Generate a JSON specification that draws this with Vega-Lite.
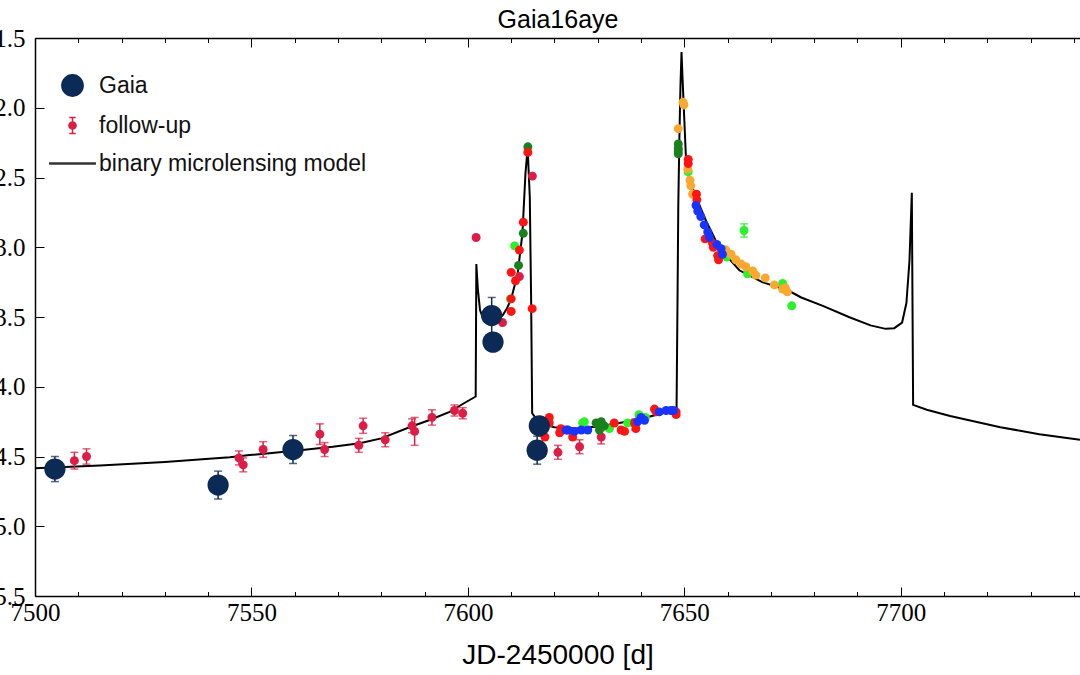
{
  "$schema": "https://vega.github.io/schema/vega-lite/v6.json",
  "width": 1045,
  "height": 558,
  "autosize": {"type": "none"},
  "padding": {"left": 35, "top": 38, "right": 0, "bottom": 79},
  "background": "white",
  "datasets": {
    "model": [
      {"t": 7500, "mag": 14.584}, {"t": 7515, "mag": 14.565}, {"t": 7530, "mag": 14.54}, {"t": 7545, "mag": 14.505},
      {"t": 7549.6, "mag": 14.49}, {"t": 7561.2, "mag": 14.455}, {"t": 7568.8, "mag": 14.43}, {"t": 7575, "mag": 14.405},
      {"t": 7580, "mag": 14.37}, {"t": 7586.5, "mag": 14.29}, {"t": 7591, "mag": 14.24}, {"t": 7595.8, "mag": 14.18},
      {"t": 7599, "mag": 14.12}, {"t": 7601.8, "mag": 14.07}, {"t": 7601.95, "mag": 13.12}, {"t": 7602.3, "mag": 13.3},
      {"t": 7602.8, "mag": 13.45}, {"t": 7603.5, "mag": 13.51}, {"t": 7605, "mag": 13.53}, {"t": 7606.5, "mag": 13.52},
      {"t": 7608, "mag": 13.49}, {"t": 7609, "mag": 13.44}, {"t": 7610, "mag": 13.37}, {"t": 7611.5, "mag": 13.19},
      {"t": 7612.6, "mag": 12.9}, {"t": 7613.3, "mag": 12.47}, {"t": 7613.8, "mag": 12.29}, {"t": 7614.3, "mag": 12.64},
      {"t": 7614.6, "mag": 13.36}, {"t": 7614.85, "mag": 14.19}, {"t": 7616.5, "mag": 14.26}, {"t": 7620, "mag": 14.29},
      {"t": 7625, "mag": 14.3}, {"t": 7630, "mag": 14.285}, {"t": 7635, "mag": 14.26}, {"t": 7640, "mag": 14.23},
      {"t": 7645, "mag": 14.19}, {"t": 7648.2, "mag": 14.17}, {"t": 7648.45, "mag": 13.29}, {"t": 7648.6, "mag": 12.71},
      {"t": 7648.85, "mag": 12.23}, {"t": 7649.1, "mag": 11.85}, {"t": 7649.35, "mag": 11.6}, {"t": 7649.6, "mag": 11.8},
      {"t": 7650.0, "mag": 12.09}, {"t": 7650.4, "mag": 12.38}, {"t": 7651.0, "mag": 12.49}, {"t": 7651.5, "mag": 12.54},
      {"t": 7652.7, "mag": 12.64}, {"t": 7655, "mag": 12.81}, {"t": 7658, "mag": 13.0}, {"t": 7662.7, "mag": 13.165},
      {"t": 7668, "mag": 13.25}, {"t": 7674, "mag": 13.31}, {"t": 7677, "mag": 13.36}, {"t": 7682, "mag": 13.42},
      {"t": 7688, "mag": 13.5}, {"t": 7693, "mag": 13.56}, {"t": 7696.5, "mag": 13.585}, {"t": 7698.5, "mag": 13.58},
      {"t": 7700.3, "mag": 13.54}, {"t": 7701.3, "mag": 13.4}, {"t": 7702.0, "mag": 13.1}, {"t": 7702.55, "mag": 12.61},
      {"t": 7702.85, "mag": 14.13}, {"t": 7706, "mag": 14.165}, {"t": 7711.4, "mag": 14.21}, {"t": 7723, "mag": 14.29},
      {"t": 7732, "mag": 14.34}, {"t": 7741.4, "mag": 14.38}
    ],
    "gaia": [
      {"t": 7504.6, "mag": 14.59, "err": 0.09, "series": "Gaia"},
      {"t": 7542.3, "mag": 14.705, "err": 0.1, "series": "Gaia"},
      {"t": 7559.6, "mag": 14.45, "err": 0.1, "series": "Gaia"},
      {"t": 7605.5, "mag": 13.49, "err": 0.13, "series": "Gaia"},
      {"t": 7605.8, "mag": 13.68, "err": 0.06, "series": "Gaia"},
      {"t": 7616.5, "mag": 14.28, "err": 0.06, "series": "Gaia"},
      {"t": 7616.0, "mag": 14.455, "err": 0.1, "series": "Gaia"}
    ],
    "fu": [
      {"t": 7509.1, "mag": 14.53, "err": 0.06, "tel": "crimson"},
      {"t": 7511.9, "mag": 14.5, "err": 0.055, "tel": "crimson"},
      {"t": 7547.1, "mag": 14.51, "err": 0.05, "tel": "crimson"},
      {"t": 7548.1, "mag": 14.56, "err": 0.05, "tel": "crimson"},
      {"t": 7552.7, "mag": 14.45, "err": 0.056, "tel": "crimson"},
      {"t": 7565.8, "mag": 14.34, "err": 0.074, "tel": "crimson"},
      {"t": 7566.9, "mag": 14.45, "err": 0.05, "tel": "crimson"},
      {"t": 7574.8, "mag": 14.42, "err": 0.05, "tel": "crimson"},
      {"t": 7575.8, "mag": 14.28, "err": 0.054, "tel": "crimson"},
      {"t": 7580.9, "mag": 14.38, "err": 0.05, "tel": "crimson"},
      {"t": 7587.1, "mag": 14.28, "err": 0.05, "tel": "crimson"},
      {"t": 7587.7, "mag": 14.32, "err": 0.1, "tel": "crimson"},
      {"t": 7591.7, "mag": 14.22, "err": 0.055, "tel": "crimson"},
      {"t": 7596.9, "mag": 14.17, "err": 0.04, "tel": "crimson"},
      {"t": 7598.8, "mag": 14.19, "err": 0.04, "tel": "crimson"},
      {"t": 7601.9, "mag": 12.93, "err": 0, "tel": "crimson"},
      {"t": 7608.0, "mag": 13.54, "err": 0, "tel": "crimson"},
      {"t": 7611.9, "mag": 13.21, "err": 0, "tel": "crimson"},
      {"t": 7614.9, "mag": 12.49, "err": 0, "tel": "crimson"},
      {"t": 7620.8, "mag": 14.47, "err": 0.05, "tel": "crimson"},
      {"t": 7625.8, "mag": 14.43, "err": 0.05, "tel": "crimson"},
      {"t": 7630.8, "mag": 14.36, "err": 0.05, "tel": "crimson"},
      {"t": 7638.7, "mag": 14.27, "err": 0.04, "tel": "crimson"},
      {"t": 7609.8, "mag": 13.37, "err": 0, "tel": "lime"},
      {"t": 7610.8, "mag": 12.99, "err": 0, "tel": "lime"},
      {"t": 7626.5, "mag": 14.26, "err": 0, "tel": "lime"},
      {"t": 7626.9, "mag": 14.25, "err": 0, "tel": "lime"},
      {"t": 7632.7, "mag": 14.3, "err": 0, "tel": "lime"},
      {"t": 7636.9, "mag": 14.26, "err": 0, "tel": "lime"},
      {"t": 7639.5, "mag": 14.2, "err": 0, "tel": "lime"},
      {"t": 7641.0, "mag": 14.22, "err": 0, "tel": "lime"},
      {"t": 7650.9, "mag": 12.46, "err": 0, "tel": "lime"},
      {"t": 7659.8, "mag": 13.07, "err": 0, "tel": "lime"},
      {"t": 7664.6, "mag": 13.19, "err": 0, "tel": "lime"},
      {"t": 7672.7, "mag": 13.26, "err": 0, "tel": "lime"},
      {"t": 7674.8, "mag": 13.42, "err": 0, "tel": "lime"},
      {"t": 7663.8, "mag": 12.88, "err": 0.048, "tel": "lime"},
      {"t": 7648.6, "mag": 12.15, "err": 0, "tel": "orange"},
      {"t": 7649.7, "mag": 11.96, "err": 0, "tel": "orange"},
      {"t": 7649.9, "mag": 11.98, "err": 0, "tel": "orange"},
      {"t": 7650.8, "mag": 12.44, "err": 0, "tel": "orange"},
      {"t": 7651.3, "mag": 12.52, "err": 0, "tel": "orange"},
      {"t": 7651.5, "mag": 12.56, "err": 0, "tel": "orange"},
      {"t": 7651.9, "mag": 12.62, "err": 0, "tel": "orange"},
      {"t": 7659.4, "mag": 13.02, "err": 0, "tel": "orange"},
      {"t": 7659.6, "mag": 13.02, "err": 0, "tel": "orange"},
      {"t": 7660.8, "mag": 13.05, "err": 0, "tel": "orange"},
      {"t": 7661.9, "mag": 13.09, "err": 0, "tel": "orange"},
      {"t": 7663.1, "mag": 13.12, "err": 0, "tel": "orange"},
      {"t": 7664.2, "mag": 13.14, "err": 0, "tel": "orange"},
      {"t": 7665.8, "mag": 13.17, "err": 0, "tel": "orange"},
      {"t": 7666.5, "mag": 13.2, "err": 0, "tel": "orange"},
      {"t": 7668.7, "mag": 13.22, "err": 0, "tel": "orange"},
      {"t": 7670.8, "mag": 13.27, "err": 0, "tel": "orange"},
      {"t": 7672.7, "mag": 13.3, "err": 0, "tel": "orange"},
      {"t": 7673.3, "mag": 13.29, "err": 0, "tel": "orange"},
      {"t": 7673.8, "mag": 13.32, "err": 0, "tel": "orange"},
      {"t": 7611.7, "mag": 13.13, "err": 0, "tel": "darkgreen"},
      {"t": 7612.8, "mag": 12.9, "err": 0, "tel": "darkgreen"},
      {"t": 7613.85, "mag": 12.28, "err": 0, "tel": "darkgreen"},
      {"t": 7629.6, "mag": 14.26, "err": 0, "tel": "darkgreen"},
      {"t": 7630.4, "mag": 14.31, "err": 0, "tel": "darkgreen"},
      {"t": 7630.8, "mag": 14.25, "err": 0, "tel": "darkgreen"},
      {"t": 7631.5, "mag": 14.28, "err": 0, "tel": "darkgreen"},
      {"t": 7648.6, "mag": 12.26, "err": 0, "tel": "darkgreen"},
      {"t": 7648.6, "mag": 12.29, "err": 0, "tel": "darkgreen"},
      {"t": 7648.6, "mag": 12.31, "err": 0, "tel": "darkgreen"},
      {"t": 7648.6, "mag": 12.33, "err": 0, "tel": "darkgreen"},
      {"t": 7610.0, "mag": 13.18, "err": 0, "tel": "red"},
      {"t": 7610.0, "mag": 13.37, "err": 0, "tel": "red"},
      {"t": 7610.0, "mag": 13.46, "err": 0, "tel": "red"},
      {"t": 7611.0, "mag": 13.24, "err": 0, "tel": "red"},
      {"t": 7611.9, "mag": 13.02, "err": 0, "tel": "red"},
      {"t": 7612.8, "mag": 12.82, "err": 0, "tel": "red"},
      {"t": 7613.85, "mag": 12.32, "err": 0, "tel": "red"},
      {"t": 7614.85, "mag": 13.44, "err": 0, "tel": "red"},
      {"t": 7617.8, "mag": 14.36, "err": 0, "tel": "red"},
      {"t": 7618.8, "mag": 14.22, "err": 0, "tel": "red"},
      {"t": 7618.8, "mag": 14.26, "err": 0, "tel": "red"},
      {"t": 7621.2, "mag": 14.33, "err": 0, "tel": "red"},
      {"t": 7621.5, "mag": 14.3, "err": 0, "tel": "red"},
      {"t": 7624.2, "mag": 14.36, "err": 0, "tel": "red"},
      {"t": 7633.8, "mag": 14.26, "err": 0, "tel": "red"},
      {"t": 7635.4, "mag": 14.31, "err": 0, "tel": "red"},
      {"t": 7636.2, "mag": 14.32, "err": 0, "tel": "red"},
      {"t": 7638.5, "mag": 14.26, "err": 0, "tel": "red"},
      {"t": 7638.8, "mag": 14.3, "err": 0, "tel": "red"},
      {"t": 7643.1, "mag": 14.16, "err": 0, "tel": "red"},
      {"t": 7643.5, "mag": 14.18, "err": 0, "tel": "red"},
      {"t": 7648.1, "mag": 14.18, "err": 0, "tel": "red"},
      {"t": 7648.1, "mag": 14.2, "err": 0, "tel": "red"},
      {"t": 7650.9, "mag": 12.37, "err": 0, "tel": "red"},
      {"t": 7650.9, "mag": 12.4, "err": 0, "tel": "red"},
      {"t": 7652.8, "mag": 12.62, "err": 0, "tel": "red"},
      {"t": 7652.9, "mag": 12.66, "err": 0, "tel": "red"},
      {"t": 7654.8, "mag": 12.94, "err": 0, "tel": "red"},
      {"t": 7656.5, "mag": 12.97, "err": 0, "tel": "red"},
      {"t": 7656.7, "mag": 13.0, "err": 0, "tel": "red"},
      {"t": 7657.7, "mag": 13.06, "err": 0, "tel": "red"},
      {"t": 7657.9, "mag": 13.09, "err": 0, "tel": "red"},
      {"t": 7622.7, "mag": 14.31, "err": 0, "tel": "blue"},
      {"t": 7623.1, "mag": 14.31, "err": 0, "tel": "blue"},
      {"t": 7624.6, "mag": 14.32, "err": 0, "tel": "blue"},
      {"t": 7626.2, "mag": 14.31, "err": 0, "tel": "blue"},
      {"t": 7627.7, "mag": 14.31, "err": 0, "tel": "blue"},
      {"t": 7639.2, "mag": 14.25, "err": 0, "tel": "blue"},
      {"t": 7640.0, "mag": 14.22, "err": 0, "tel": "blue"},
      {"t": 7640.8, "mag": 14.24, "err": 0, "tel": "blue"},
      {"t": 7644.2, "mag": 14.18, "err": 0, "tel": "blue"},
      {"t": 7645.8, "mag": 14.17, "err": 0, "tel": "blue"},
      {"t": 7646.9, "mag": 14.17, "err": 0, "tel": "blue"},
      {"t": 7647.5, "mag": 14.17, "err": 0, "tel": "blue"},
      {"t": 7652.7, "mag": 12.7, "err": 0, "tel": "blue"},
      {"t": 7653.1, "mag": 12.74, "err": 0, "tel": "blue"},
      {"t": 7653.8, "mag": 12.78, "err": 0, "tel": "blue"},
      {"t": 7654.6, "mag": 12.84, "err": 0, "tel": "blue"},
      {"t": 7655.4, "mag": 12.89, "err": 0, "tel": "blue"},
      {"t": 7655.8, "mag": 12.93, "err": 0, "tel": "blue"},
      {"t": 7657.5, "mag": 12.98, "err": 0, "tel": "blue"},
      {"t": 7658.5, "mag": 13.01, "err": 0, "tel": "blue"},
      {"t": 7658.8, "mag": 13.05, "err": 0, "tel": "blue"}
    ]
  },
  "layer": [
    {
      "data": {"name": "model"},
      "mark": {"type": "line", "color": "#000", "strokeWidth": 2, "clip": true},
      "encoding": {
        "x": {"field": "t", "type": "quantitative", "scale": {"domain": [7500, 7741.4], "nice": false, "zero": false},
          "axis": {"orient": "bottom", "values": [7500,7510,7520,7530,7540,7550,7560,7570,7580,7590,7600,7610,7620,7630,7640,7650,7660,7670,7680,7690,7700,7710,7720,7730,7740],
            "labelExpr": "datum.value % 50 === 0 ? datum.label : ''", "format": "d",
            "tickSize": {"condition": {"test": "datum.value % 50 === 0", "value": -9}, "value": -4.5},
            "tickColor": "#000", "tickWidth": 1, "labelFont": "Liberation Serif", "labelFontSize": 25, "labelColor": "#000",
            "labelPadding": 13, "labelFlush": false, "labelOverlap": false, "labelBound": false,
            "domain": true, "domainColor": "#000", "domainWidth": 1.5, "grid": false,
            "title": "JD-2450000 [d]", "titleFont": "Liberation Sans", "titleFontSize": 28, "titleFontWeight": "normal", "titleColor": "#000",
            "titleY": 67, "titleBaseline": "alphabetic"}},
        "y": {"field": "mag", "type": "quantitative", "scale": {"domain": [11.5, 15.5], "reverse": true, "nice": false, "zero": false},
          "axis": {"orient": "left", "values": [11.5,12,12.5,13,13.5,14,14.5,15,15.5], "format": ".1f", "title": null, "grid": false,
            "ticks": false, "labelPadding": 10, "labelFont": "Liberation Serif", "labelFontSize": 25, "labelColor": "#000",
            "labelFlush": false, "labelOverlap": false, "domain": true, "domainColor": "#000", "domainWidth": 1.5}}
      }
    },
    {
      "data": {"name": "fu"},
      "transform": [{"filter": "datum.tel === 'crimson' && datum.err > 0"}],
      "mark": {"type": "errorbar", "ticks": {"size": 8}, "thickness": 1.5},
      "encoding": {
        "x": {"field": "t", "type": "quantitative", "scale": {"domain": [7500, 7741.4], "nice": false, "zero": false}, "axis": null},
        "y": {"field": "mag", "type": "quantitative", "scale": {"domain": [11.5, 15.5], "reverse": true, "nice": false, "zero": false}, "axis": null},
        "yError": {"field": "err"},
        "color": {"value": "#dc1e46"}
      }
    },
    {
      "data": {"name": "fu"},
      "transform": [{"filter": "datum.tel === 'lime' && datum.err > 0"}],
      "mark": {"type": "errorbar", "ticks": {"size": 8}, "thickness": 1.5},
      "encoding": {
        "x": {"field": "t", "type": "quantitative", "scale": {"domain": [7500, 7741.4], "nice": false, "zero": false}, "axis": null},
        "y": {"field": "mag", "type": "quantitative", "scale": {"domain": [11.5, 15.5], "reverse": true, "nice": false, "zero": false}, "axis": null},
        "yError": {"field": "err"},
        "color": {"value": "#2cf02c"}
      }
    },
    {
      "data": {"name": "fu"},
      "mark": {"type": "point", "filled": true, "size": 80, "opacity": 1, "shape": "circle"},
      "encoding": {
        "x": {"field": "t", "type": "quantitative", "scale": {"domain": [7500, 7741.4], "nice": false, "zero": false}, "axis": null},
        "y": {"field": "mag", "type": "quantitative", "scale": {"domain": [11.5, 15.5], "reverse": true, "nice": false, "zero": false},
          "axis": {"orient": "left", "values": [11.5,12,12.5,13,13.5,14,14.5,15,15.5], "labels": false, "domain": false, "ticks": false, "title": null,
            "grid": true, "gridDash": [9, 3000], "gridColor": "#000", "gridWidth": 1, "gridOpacity": 1}},
        "fill": {"field": "tel", "type": "nominal", "scale": {"domain": ["crimson", "lime", "orange", "darkgreen", "red", "blue"], "range": ["#dc1e46", "#2cf02c", "#f9a830", "#1a801e", "#ff1414", "#1a34ff"]}, "legend": null}
      }
    },
    {
      "data": {"name": "gaia"},
      "mark": {"type": "errorbar", "ticks": {"size": 8}, "thickness": 1.5},
      "encoding": {
        "x": {"field": "t", "type": "quantitative", "scale": {"domain": [7500, 7741.4], "nice": false, "zero": false}, "axis": null},
        "y": {"field": "mag", "type": "quantitative", "scale": {"domain": [11.5, 15.5], "reverse": true, "nice": false, "zero": false}, "axis": null},
        "yError": {"field": "err"},
        "color": {"value": "#0b2a56"}
      }
    },
    {
      "data": {"name": "gaia"},
      "mark": {"type": "point", "filled": true, "size": 452, "opacity": 1, "shape": "circle"},
      "encoding": {
        "x": {"field": "t", "type": "quantitative", "scale": {"domain": [7500, 7741.4], "nice": false, "zero": false},
          "axis": {"orient": "top", "values": [7500,7510,7520,7530,7540,7550,7560,7570,7580,7590,7600,7610,7620,7630,7640,7650,7660,7670,7680,7690,7700,7710,7720,7730,7740],
            "labels": false, "tickSize": {"condition": {"test": "datum.value % 50 === 0", "value": -9}, "value": -4.5},
            "tickColor": "#000", "tickWidth": 1, "domain": true, "domainColor": "#000", "domainWidth": 1.5, "grid": false,
            "title": "Gaia16aye", "titleFont": "Liberation Sans", "titleFontSize": 25, "titleFontWeight": "normal", "titleColor": "#000",
            "titleY": -11, "titleBaseline": "alphabetic"}},
        "y": {"field": "mag", "type": "quantitative", "scale": {"domain": [11.5, 15.5], "reverse": true, "nice": false, "zero": false}, "axis": null},
        "color": {"field": "series", "type": "nominal",
          "scale": {"domain": ["Gaia", "follow-up", "binary microlensing model"], "range": ["#0b2a56", "#dc1e46", "#000000"]},
          "legend": {"title": null, "orient": "none", "legendX": 26, "legendY": 36, "symbolSize": 900, "padding": 0,
            "labelFont": "Liberation Sans", "labelFontSize": 23, "labelColor": "#111", "labelOffset": 15, "labelLimit": 500, "rowPadding": 14,
            "symbolStrokeWidth": 1.5, "symbolOpacity": 1,
            "encode": {"symbols": {"update": {
              "shape": {"signal": "datum.value === 'binary microlensing model' ? 'stroke' : datum.value === 'follow-up' ? 'M0,-1L0,1M-0.4,-1L0.4,-1M-0.4,1L0.4,1M-0.45,0A0.45,0.45,0,1,0,0.45,0A0.45,0.45,0,1,0,-0.45,0Z' : 'circle'"},
              "size": {"signal": "datum.value === 'Gaia' ? 452 : datum.value === 'follow-up' ? 256 : 2200"},
              "stroke": {"signal": "datum.value === 'Gaia' ? '#0b2a56' : datum.value === 'follow-up' ? '#dc1e46' : '#333333'"},
              "strokeWidth": {"signal": "datum.value === 'binary microlensing model' ? 2.5 : 1.5"},
              "opacity": {"value": 1}
            }}}}
        }
      }
    }
  ],
  "resolve": {"axis": {"x": "independent", "y": "independent"}},
  "config": {
    "view": {"stroke": null},
    "axis": {"grid": false}
  }
}
